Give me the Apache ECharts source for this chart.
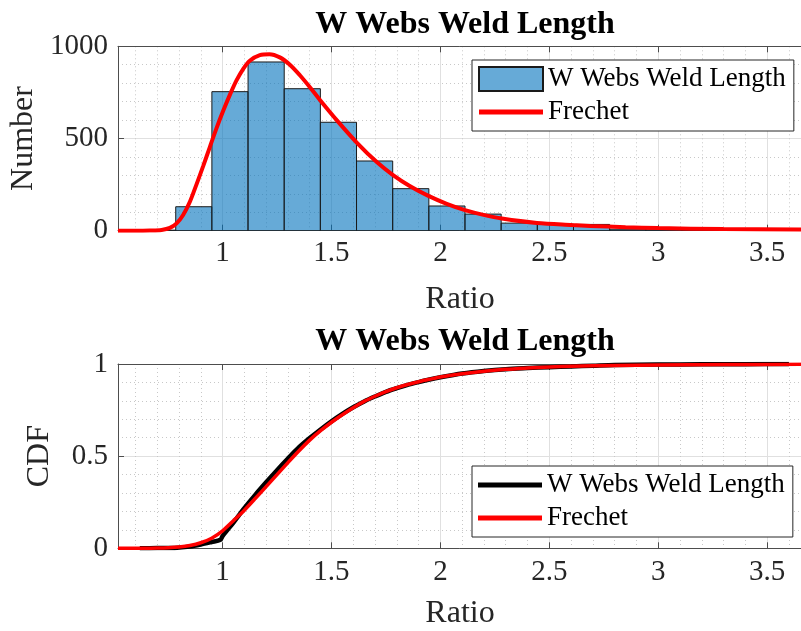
<!DOCTYPE html>
<html><head><meta charset="utf-8">
<script src="https://cdn.jsdelivr.net/npm/echarts@6/dist/echarts.min.js"></script>
<style>html,body{margin:0;padding:0;background:#fff}#c{width:801px;height:631px}</style>
</head><body><div id="c"></div>
<script>
// ---- data ----
const titleText = 'W Webs Weld Length';
const seriesLabels = { hist: 'W Webs Weld Length', pdf: 'Frechet', cdfEmp: 'W Webs Weld Length', cdfFit: 'Frechet' };
const xAxisName = 'Ratio';
const yNameTop = 'Number';
const yNameBottom = 'CDF';

const binEdges = [0.619, 0.785, 0.951, 1.117, 1.283, 1.449, 1.615, 1.781, 1.947, 2.113, 2.279, 2.445, 2.611, 2.777, 2.943, 3.109, 3.275, 3.441, 3.607];
const binCounts = [3, 130, 754, 915, 770, 588, 378, 228, 134, 90, 41, 36, 34, 8, 5, 3, 2, 1];

const pdfX = [0.52, 0.60, 0.666, 0.72, 0.758, 0.789, 0.819, 0.85, 0.88, 0.911, 0.942, 0.972, 1.003, 1.034, 1.064, 1.095, 1.125, 1.171, 1.215, 1.263, 1.309, 1.355, 1.401, 1.447, 1.531, 1.616, 1.708, 1.781, 1.861, 1.945, 2.029, 2.113, 2.198, 2.282, 2.443, 2.604, 2.688, 2.85, 3.0, 3.3, 3.66];
const pdfY = [0, 0, 1, 4, 15, 40, 85, 157, 250, 350, 455, 555, 650, 738, 815, 878, 922, 952, 957, 940, 900, 843, 778, 709, 590, 478, 372, 303, 241, 189, 146, 112, 86, 66, 42, 31, 26, 19, 14, 9, 6];

const cdfFitX = [0.52, 0.65, 0.70, 0.75, 0.80, 0.85, 0.90, 0.95, 1.0, 1.05, 1.10, 1.15, 1.20, 1.25, 1.30, 1.35, 1.40, 1.45, 1.50, 1.55, 1.60, 1.65, 1.70, 1.75, 1.80, 1.85, 1.90, 1.95, 2.0, 2.1, 2.2, 2.3, 2.4, 2.5, 2.6, 2.8, 3.0, 3.3, 3.66];
const cdfFitY = [0, 0, 0.001, 0.003, 0.007, 0.015, 0.03, 0.055, 0.095, 0.15, 0.207, 0.27, 0.335, 0.40, 0.465, 0.528, 0.587, 0.638, 0.684, 0.725, 0.763, 0.797, 0.825, 0.85, 0.871, 0.889, 0.904, 0.917, 0.929, 0.947, 0.961, 0.971, 0.978, 0.984, 0.988, 0.992, 0.995, 0.997, 0.998];

const cdfEmpX = [0.62, 0.70, 0.78, 0.85, 0.90, 0.95, 0.99, 1.00, 1.05, 1.10, 1.15, 1.20, 1.25, 1.30, 1.35, 1.40, 1.45, 1.50, 1.55, 1.60, 1.65, 1.70, 1.75, 1.80, 1.85, 1.90, 1.95, 2.0, 2.1, 2.2, 2.3, 2.4, 2.5, 2.6, 2.7, 2.8, 3.0, 3.2, 3.4, 3.6];
const cdfEmpY = [0, 0.001, 0.002, 0.009, 0.02, 0.034, 0.046, 0.066, 0.14, 0.218, 0.29, 0.358, 0.424, 0.487, 0.547, 0.598, 0.645, 0.689, 0.729, 0.765, 0.797, 0.824, 0.849, 0.869, 0.887, 0.902, 0.916, 0.928, 0.948, 0.962, 0.972, 0.978, 0.983, 0.987, 0.991, 0.995, 0.997, 0.998, 0.999, 1.0];

const xMin = 0.52, xMax = 3.66;
const yTopMax = 1000, yTopInterval = 500;
const yBotMax = 1, yBotInterval = 0.5;

// ---- chart ----
const FONT = "'Liberation Serif','Times New Roman',serif";
const AX = '#4d4d4d';
const TXT = '#262626';
const barFill = 'rgba(0,114,189,0.6)';

function xAxisPair(g, nameGap, labelMargin) {
  return [
    {
      type: 'value', gridIndex: g, position: 'bottom', min: xMin, max: xMax, splitNumber: 6,
      axisLine: { show: true, onZero: false, lineStyle: { color: AX, width: 1 } },
      axisTick: { show: true, inside: true, length: 6, lineStyle: { color: AX } },
      axisLabel: {
        show: true, fontFamily: FONT, fontSize: 29, color: TXT, margin: labelMargin,
        formatter: v => (Math.abs(v * 2 - Math.round(v * 2)) < 1e-6 ? String(+v.toFixed(2)) : '')
      },
      splitLine: { show: true, lineStyle: { color: '#e0e0e0', width: 1 } },
      minorTick: { show: false, splitNumber: 5 },
      minorSplitLine: { show: true, lineStyle: { color: '#c8c8c8', width: 1, type: [1, 3] } },
      name: xAxisName, nameLocation: 'middle', nameGap: nameGap,
      nameTextStyle: { fontFamily: FONT, fontSize: 32, color: TXT }
    },
    {
      type: 'value', gridIndex: g, position: 'top', min: xMin, max: xMax, splitNumber: 6,
      axisLine: { show: true, onZero: false, lineStyle: { color: AX, width: 1 } },
      axisTick: { show: true, inside: true, length: 6, lineStyle: { color: AX } },
      axisLabel: { show: false }, splitLine: { show: false }
    }
  ];
}
function yAxis(g, max, interval, name, nameGap) {
  return {
    type: 'value', gridIndex: g, min: 0, max: max, interval: interval,
    axisLine: { show: true, onZero: false, lineStyle: { color: AX, width: 1 } },
    axisTick: { show: true, inside: true, length: 6, lineStyle: { color: AX } },
    axisLabel: { fontFamily: FONT, fontSize: 29, color: TXT, margin: 10, formatter: v => String(v) },
    splitLine: { show: true, lineStyle: { color: '#e0e0e0', width: 1 } },
    minorTick: { show: false, splitNumber: 5 },
    minorSplitLine: { show: true, lineStyle: { color: '#c8c8c8', width: 1, type: [1, 3] } },
    name: name, nameLocation: 'middle', nameRotate: 90, nameGap: nameGap,
    nameTextStyle: { fontFamily: FONT, fontSize: 32, color: TXT }
  };
}
function legend(top, names) {
  return {
    orient: 'vertical', left: 472, top: top, selectedMode: false,
    backgroundColor: '#fff', borderColor: '#262626', borderWidth: 1, borderRadius: 0,
    padding: [5, 8, 5, 6], itemGap: 5, itemWidth: 64, itemHeight: 24,
    textStyle: { fontFamily: FONT, fontSize: 27, color: '#000', lineHeight: 28 },
    formatter: n => seriesLabels[n],
    data: names
  };
}
const linePath = 'path://M0,0H64V5H0Z';

const chart = echarts.init(document.getElementById('c'), null, { renderer: 'canvas' });
chart.setOption({
  animation: false,
  backgroundColor: '#fff',
  title: [
    { text: titleText, left: 460, textAlign: 'center', top: 4, textStyle: { fontFamily: FONT, fontSize: 32, fontWeight: 'bold', color: '#000' } },
    { text: titleText, left: 460, textAlign: 'center', top: 321, textStyle: { fontFamily: FONT, fontSize: 32, fontWeight: 'bold', color: '#000' } }
  ],
  grid: [
    { left: 118, top: 46.3, width: 684, height: 184.4, containLabel: false, outerBoundsMode: 'none' },
    { left: 118, top: 364, width: 684, height: 184.3, containLabel: false, outerBoundsMode: 'none' }
  ],
  xAxis: [...xAxisPair(0, 53, 8), ...xAxisPair(1, 49, 10)],
  yAxis: [yAxis(0, yTopMax, yTopInterval, yNameTop, 77), yAxis(1, yBotMax, yBotInterval, yNameBottom, 62)],
  legend: [
    legend(60, [{ name: 'hist', icon: 'rect' }, { name: 'pdf', icon: linePath }]),
    legend(466, [{ name: 'cdfEmp', icon: linePath }, { name: 'cdfFit', icon: linePath }])
  ],
  series: [
    {
      name: 'hist', type: 'custom', xAxisIndex: 0, yAxisIndex: 0, clip: true,
      itemStyle: { color: barFill, borderColor: '#1a1a1a', borderWidth: 1 },
      encode: { x: [0, 1], y: 2 },
      data: binCounts.map((c, i) => [binEdges[i], binEdges[i + 1], c]),
      renderItem: function (params, api) {
        const p0 = api.coord([api.value(0), api.value(2)]);
        const p1 = api.coord([api.value(1), 0]);
        return { type: 'rect', shape: { x: p0[0], y: p0[1], width: p1[0] - p0[0], height: p1[1] - p0[1] },
          style: { fill: barFill, stroke: '#1a1a1a', lineWidth: 1 } };
      },
      z: 2
    },
    {
      name: 'pdf', type: 'line', xAxisIndex: 0, yAxisIndex: 0, symbol: 'none', showSymbol: false,
      smooth: 0.3,
      lineStyle: { color: '#ff0000', width: 4 }, itemStyle: { color: '#ff0000', borderWidth: 0 },
      data: pdfX.map((x, i) => [x, pdfY[i]]), z: 3
    },
    {
      name: 'cdfEmp', type: 'line', xAxisIndex: 2, yAxisIndex: 1, symbol: 'none', showSymbol: false,
      smooth: 0.3,
      lineStyle: { color: '#000000', width: 4.5 }, itemStyle: { color: '#000000', borderWidth: 0 },
      data: cdfEmpX.map((x, i) => [x, cdfEmpY[i]]), z: 2
    },
    {
      name: 'cdfFit', type: 'line', xAxisIndex: 2, yAxisIndex: 1, symbol: 'none', showSymbol: false,
      smooth: 0.3,
      lineStyle: { color: '#ff0000', width: 3.5 }, itemStyle: { color: '#ff0000', borderWidth: 0 },
      data: cdfFitX.map((x, i) => [x, cdfFitY[i]]), z: 3
    }
  ]
});
</script>
</body></html>
